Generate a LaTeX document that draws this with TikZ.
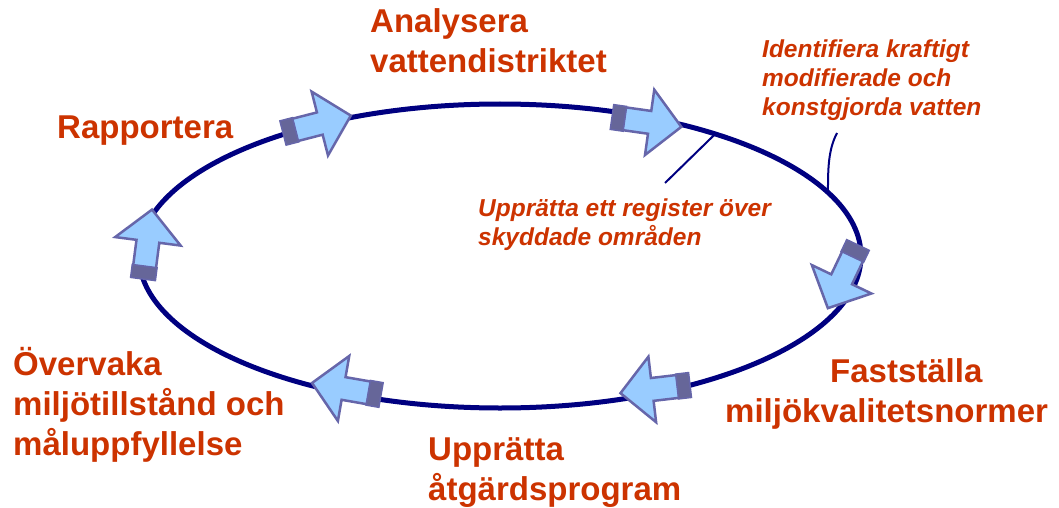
\documentclass[tikz,border=0pt]{standalone}
\usepackage{fontspec}
\setmainfont{Liberation Sans}
\usetikzlibrary{calc}
\definecolor{txtred}{RGB}{204,51,0}
\definecolor{navy}{RGB}{0,0,128}
\definecolor{arrfill}{RGB}{153,204,255}
\definecolor{arrline}{RGB}{102,102,170}
\definecolor{bandfill}{RGB}{102,102,153}
\newcommand\flowarrow[3]{%
  \begin{scope}[shift={(#1,#2)},rotate=#3]
    \draw[arrowbody] (12,-11.5) -- (38,-11.5) -- (38,-33) -- (70,0) -- (38,33) -- (38,11.5) -- (12,11.5) -- cycle;
    \draw[arrowband] (0,-12.5) rectangle (13,12.5);
  \end{scope}}
\begin{document}
\begin{tikzpicture}[x=1pt,y=-1pt,
  lbl/.style={text=txtred, font=\bfseries\fontsize{33}{40}\selectfont, align=left, inner sep=0pt},
  note/.style={text=txtred, font=\bfseries\itshape\fontsize{24.5}{28.5}\selectfont, align=left, inner sep=0pt},
  cycleline/.style={draw=navy, line width=5pt},
  thinline/.style={draw=navy, line width=2pt},
  arrowbody/.style={fill=arrfill, draw=arrline, line width=2.5pt, line join=miter},
  arrowband/.style={fill=bandfill, draw=arrline, line width=1.5pt}]
\useasboundingbox (0,0) rectangle (1059,508);
\coordinate (c) at (500,256);
\draw[cycleline] (c) ellipse [x radius=361, y radius=152];
% connectors of the notes
\coordinate (eA) at ($(c)+(-53.4:361 and 152)$);
\coordinate (lA) at (665,183);
\coordinate (eB) at ($(c)+(-24.7:361 and 152)$);
\coordinate (lB) at (837,133);
\draw[thinline] (lA) -- (eA);
\draw[thinline] (lB) .. controls (828,150) and (828,170) .. (eB);
% arrows (tail point, angle)
\flowarrow{283}{133}{14.4}
\flowarrow{612}{117}{-8.1}
\flowarrow{858}{245}{-115.5}
\flowarrow{690}{385}{-173.3}
\flowarrow{381}{395}{170.1}
\flowarrow{143}{279}{82.6}
% labels (base anchor = baseline of the last line)
\node[lbl, anchor=base west] (analysera) at (370,73) {Analysera\\vattendistriktet};
\node[lbl, anchor=base west] (rapportera) at (57,138) {Rapportera};
\node[lbl, anchor=base west] (faststalla) at (725,422) {\hspace*{105pt}Fastställa\\miljökvalitetsnormer};
\node[lbl, anchor=base west] (upprattaprog) at (428,500) {Upprätta\\åtgärdsprogram};
\node[lbl, anchor=base west] (overvaka) at (13,455) {Övervaka\\miljötillstånd och\\måluppfyllelse};
\node[note, anchor=base west] (identifiera) at (762,115) {Identifiera kraftigt\\modifierade och\\konstgjorda vatten};
\node[note, anchor=base west] (register) at (478,245) {Upprätta ett register över\\skyddade områden};
\end{tikzpicture}
\end{document}
